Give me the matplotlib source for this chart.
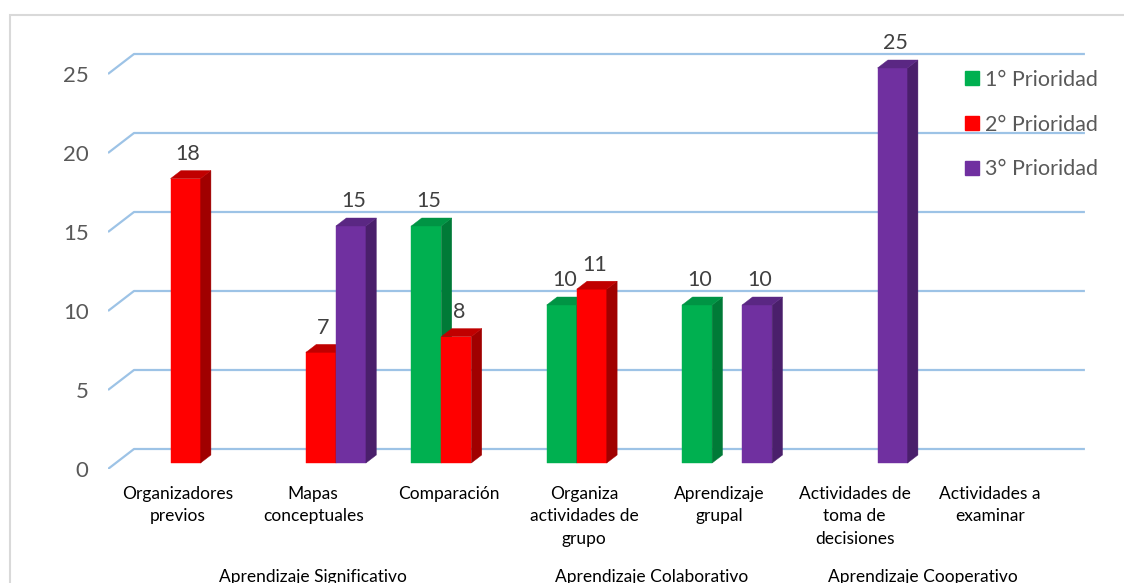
import matplotlib.pyplot as plt
from matplotlib.patches import Polygon, Rectangle, Patch

plt.rcParams['font.family'] = ['Lato', 'DejaVu Sans']

categorias = ["Organizadores\nprevios", "Mapas\nconceptuales", "Comparación",
              "Organiza\nactividades de\ngrupo", "Aprendizaje\ngrupal",
              "Actividades de\ntoma de\ndecisiones", "Actividades a\nexaminar"]
grupos = ["Aprendizaje Significativo", "Aprendizaje Colaborativo", "Aprendizaje Cooperativo"]
grupo_rango = [(0, 2), (3, 4), (5, 6)]
series = ["1° Prioridad", "2° Prioridad", "3° Prioridad"]
prio1 = [0, 0, 15, 10, 10, 0, 0]
prio2 = [18, 7, 8, 11, 0, 0, 0]
prio3 = [0, 15, 0, 0, 10, 25, 0]
yticks = [0, 5, 10, 15, 20, 25]

# colours: front, side, top
colores = [("#00B050", "#007A37", "#009444"),
           ("#FF0000", "#A00000", "#C00000"),
           ("#7030A0", "#4A1F6B", "#5A2783")]

# fake 3d: depth offsets in data units
DX = 26 / 135.4
DY = 20 / 15.8
D0, D1 = 0.3, 0.7
bw = 30 / 135.4

fig = plt.figure(figsize=(11.24, 5.83), dpi=100)
ax = fig.add_axes([108 / 1124, (583 - 469) / 583, 7.215 * 135.4 / 1124, 27 * 15.8 / 583])
ax.set_xlim(-0.515, 6.7)
ax.set_ylim(0, 27)
for s in ax.spines.values():
    s.set_visible(False)

# back gridlines with slanted left part
x0 = -0.515
for v in yticks:
    ax.plot([x0, x0 + DX, 6.7], [v, v + DY, v + DY], color="#9DC3E6", lw=1.6,
            zorder=1, solid_capstyle="butt")

data = [prio1, prio2, prio3]
for k, vals in enumerate(data):
    fc, sc, tc = colores[k]
    off = (k - 1) * bw
    for i, v in enumerate(vals):
        if v == 0:
            continue
        xl = i + off - bw / 2 + D0 * DX
        xr = xl + bw
        yb = D0 * DY
        yt = v + D0 * DY
        ddx = (D1 - D0) * DX
        ddy = (D1 - D0) * DY
        ax.bar(xl, v, width=bw, bottom=yb, align="edge", color=fc,
               edgecolor=fc, lw=0.3, zorder=2 + k)
        ax.add_patch(Polygon([(xr, yb), (xr + ddx, yb + ddy), (xr + ddx, yt + ddy), (xr, yt)],
                             closed=True, facecolor=sc, edgecolor=sc, lw=0.3, zorder=2 + k))
        ax.add_patch(Polygon([(xl, yt), (xr, yt), (xr + ddx, yt + ddy), (xl + ddx, yt + ddy)],
                             closed=True, facecolor=tc, edgecolor=tc, lw=0.3, zorder=2 + k))
        ax.annotate(str(v), xy=(xl + bw / 2 + 0.1 * DX, yt + ddy), xytext=(0, 7.6),
                    textcoords="offset points", ha="center", va="baseline",
                    fontsize=15.5, color="#404040", zorder=10)

ax.set_yticks(yticks)
ax.set_yticklabels([str(t) for t in yticks], fontsize=16, color="#595959")
ax.tick_params(axis="y", length=0, pad=14)
ax.set_xticks(range(len(categorias)))
ax.set_xticklabels(categorias, fontsize=12.5, color="#000000", linespacing=1.5)
ax.tick_params(axis="x", length=0, pad=12)

for g, (a, b) in zip(grupos, grupo_rango):
    ax.annotate(g, xy=((a + b) / 2, 1), xycoords=("data", "figure pixels"),
                ha="center", va="baseline", fontsize=12.5, color="#000000")

handles = [Patch(facecolor=c[0], edgecolor=c[0]) for c in colores]
fig.legend(handles, series, loc="upper left", bbox_to_anchor=(954 / 1124, 1 - 59 / 583),
           frameon=False, fontsize=15.5, handlelength=0.64, handleheight=0.64,
           handletextpad=0.3, labelspacing=1.15, borderpad=0, labelcolor="#595959")

fig.add_artist(Rectangle((10 / 1124, -0.1), 1.2, (583 - 15) / 583 + 0.1,
                         transform=fig.transFigure, fill=False, ec="#D9D9D9", lw=1.5))

plt.savefig("out.png", dpi=100)
